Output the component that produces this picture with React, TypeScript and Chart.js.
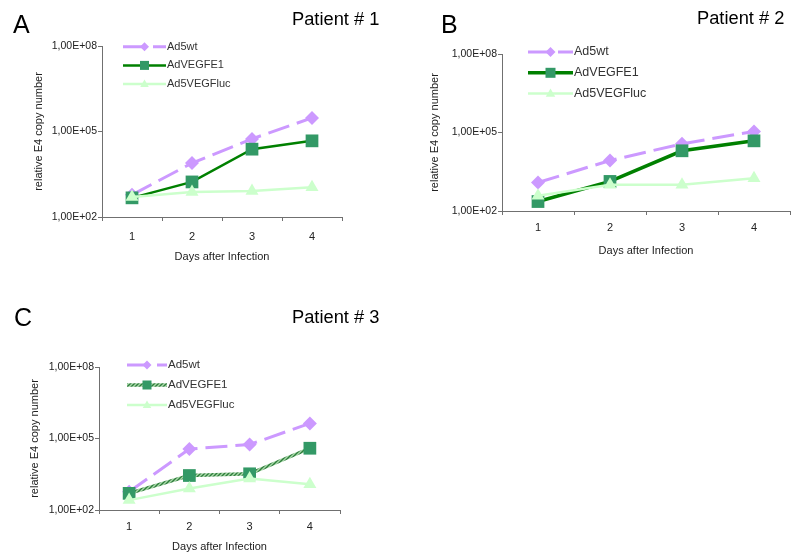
import React, { useEffect, useRef } from "react";
import { Chart, registerables } from "chart.js";

Chart.register(...registerables);

// ---------- data ----------
const days = ["1", "2", "3", "4"];
const seriesNames = ["Ad5wt", "AdVEGFE1", "Ad5VEGFluc"];
const yTickValues = [1e2, 1e5, 1e8];

const p1Ad5wt = [600, 7800, 55000, 300000];
const p1AdVEGFE1 = [470, 1700, 24000, 47000];
const p1Ad5VEGFluc = [500, 750, 820, 1100];

const p2Ad5wt = [1230, 8500, 37000, 110000];
const p2AdVEGFE1 = [230, 1350, 20000, 48000];
const p2Ad5VEGFluc = [385, 1000, 1000, 1800];

const p3Ad5wt = [580, 36000, 56000, 430000];
const p3AdVEGFE1 = [500, 2800, 3300, 39000];
const p3Ad5VEGFluc = [260, 800, 2100, 1200];

const FONT = 'Arial, "Liberation Sans", sans-serif';
const AXIS_COLOR = "#707070";
const TEXT_COLOR = "#222";

function fmtTick(v: number) {
  const e = Math.round(Math.log10(v));
  return "1,00E+" + String(e).padStart(2, "0");
}

function makeHatch(): any {
  const c = document.createElement("canvas");
  c.width = 4;
  c.height = 4;
  const g = c.getContext("2d")!;
  g.fillStyle = "#a9d9a9";
  g.fillRect(0, 0, 4, 4);
  g.strokeStyle = "#2e7d3c";
  g.lineWidth = 1.4;
  g.beginPath();
  g.moveTo(-1, 5);
  g.lineTo(5, -1);
  g.moveTo(-1, 1);
  g.lineTo(1, -1);
  g.moveTo(3, 5);
  g.lineTo(5, 3);
  g.stroke();
  return g.createPattern(c, "repeat");
}

function drawMarker(ctx: CanvasRenderingContext2D, style: string, x: number, y: number, r: number, color: string) {
  ctx.fillStyle = color;
  ctx.beginPath();
  if (style === "rectRot") {
    ctx.moveTo(x, y - r);
    ctx.lineTo(x + r, y);
    ctx.lineTo(x, y + r);
    ctx.lineTo(x - r, y);
  } else if (style === "rect") {
    ctx.rect(x - r, y - r, 2 * r, 2 * r);
  } else {
    ctx.moveTo(x, y - r);
    ctx.lineTo(x + r * 0.95, y + r * 0.65);
    ctx.lineTo(x - r * 0.95, y + r * 0.65);
  }
  ctx.closePath();
  ctx.fill();
}

const insideLegend = {
  id: "insideLegend",
  afterDatasetsDraw(chart: any, _args: any, opts: any) {
    const ctx: CanvasRenderingContext2D = chart.ctx;
    const ca = chart.chartArea;
    const x0 = ca.left + opts.dx;
    chart.data.datasets.forEach((ds: any, i: number) => {
      const y = ca.top + opts.dy + i * opts.row;
      ctx.save();
      ctx.strokeStyle = ds.borderColor;
      ctx.lineWidth = ds.borderWidth;
      ctx.setLineDash(ds.borderDash || []);
      ctx.beginPath();
      ctx.moveTo(x0, y);
      ctx.lineTo(x0 + opts.len, y);
      ctx.stroke();
      ctx.setLineDash([]);
      drawMarker(ctx, ds.pointStyle, x0 + opts.len * 0.5, y, opts.markerR, ds.pointBackgroundColor);
      ctx.fillStyle = "#333";
      ctx.font = opts.fontSize + "px " + FONT;
      ctx.textBaseline = "middle";
      ctx.textAlign = "left";
      ctx.fillText(ds.label, x0 + opts.len + 1, y);
      ctx.restore();
    });
  },
};

type PanelCfg = {
  wt: number[];
  e1: number[];
  luc: number[];
  e1Color: any;
  e1Width: number;
  pad: { left: number; right: number; top: number; bottom: number };
  yW: number;
  xH: number;
  xTickPad: number;
  legend: { dx: number; dy: number; row: number; len: number; markerR: number; fontSize: number };
};

function makeConfig(p: PanelCfg): any {
  return {
    type: "line",
    data: {
      labels: days,
      datasets: [
        {
          label: seriesNames[0],
          data: p.wt,
          borderColor: "#CC99FF",
          borderWidth: 3,
          borderDash: [22, 8],
          pointStyle: "rectRot",
          pointRadius: 7,
          pointBackgroundColor: "#CC99FF",
          pointBorderColor: "#CC99FF",
          pointBorderWidth: 0,
          order: 3,
          clip: false,
        },
        {
          label: seriesNames[1],
          data: p.e1,
          borderColor: p.e1Color,
          borderWidth: p.e1Width,
          pointStyle: "rect",
          pointRadius: 9,
          pointBackgroundColor: "#339966",
          pointBorderColor: "#339966",
          pointBorderWidth: 0,
          order: 2,
          clip: false,
        },
        {
          label: seriesNames[2],
          data: p.luc,
          borderColor: "#CCFFCC",
          borderWidth: 2.5,
          pointStyle: "triangle",
          pointRadius: 7.5,
          pointBackgroundColor: "#CCFFCC",
          pointBorderColor: "#CCFFCC",
          pointBorderWidth: 0,
          order: 1,
          clip: false,
        },
      ],
    },
    options: {
      animation: false,
      responsive: false,
      maintainAspectRatio: false,
      layout: { padding: p.pad },
      plugins: {
        legend: { display: false },
        tooltip: { enabled: false },
        insideLegend: p.legend,
      },
      scales: {
        x: {
          type: "category",
          offset: true,
          grid: { offset: true, drawOnChartArea: false, tickLength: 4, color: AXIS_COLOR },
          border: { color: AXIS_COLOR, width: 1 },
          ticks: { padding: p.xTickPad, font: { family: FONT, size: 11 }, color: TEXT_COLOR },
          title: {
            display: true,
            text: "Days after Infection",
            padding: 0,
            font: { family: FONT, size: 11 },
            color: TEXT_COLOR,
          },
          afterFit: (s: any) => {
            s.height = p.xH;
          },
        },
        y: {
          type: "logarithmic",
          min: 1e2,
          max: 1e8,
          afterBuildTicks: (s: any) => {
            s.ticks = yTickValues.map((v) => ({ value: v }));
          },
          ticks: {
            autoSkip: false,
            padding: 1,
            callback: (v: any) => fmtTick(Number(v)),
            font: { family: FONT, size: 10.5 },
            color: TEXT_COLOR,
          },
          grid: { drawOnChartArea: false, tickLength: 4, color: AXIS_COLOR },
          border: { color: AXIS_COLOR, width: 1 },
          title: {
            display: true,
            text: "relative E4 copy number",
            padding: 0,
            font: { family: FONT, size: 11 },
            color: TEXT_COLOR,
          },
          afterFit: (s: any) => {
            s.width = p.yW;
          },
        },
      },
    },
    plugins: [insideLegend],
  };
}

function Panel(props: { left: number; top: number; width: number; height: number; cfg: () => PanelCfg }) {
  const ref = useRef<HTMLCanvasElement>(null);
  useEffect(() => {
    const chart = new Chart(ref.current!, makeConfig(props.cfg()));
    return () => chart.destroy();
  }, []);
  return (
    <canvas
      ref={ref}
      width={props.width}
      height={props.height}
      style={{ position: "absolute", left: props.left, top: props.top, width: props.width, height: props.height }}
    />
  );
}

const textStyle = (left: number, top: number, size: number): React.CSSProperties => ({
  position: "absolute",
  left,
  top,
  fontFamily: FONT,
  fontSize: size,
  lineHeight: 1,
  color: "#000",
  whiteSpace: "nowrap",
});

export default function App() {
  return (
    <div style={{ position: "absolute", left: 0, top: 0, width: 800, height: 557, background: "#fff", overflow: "hidden" }}>
      <Panel
        left={0}
        top={0}
        width={400}
        height={280}
        cfg={() => ({
          wt: p1Ad5wt,
          e1: p1AdVEGFE1,
          luc: p1Ad5VEGFluc,
          e1Color: "#008000",
          e1Width: 2.5,
          pad: { left: 32.4, right: 58, top: 46, bottom: 16.4 },
          yW: 69.6,
          xH: 46.6,
          xTickPad: 9.4,
          legend: { dx: 21, dy: 0.7, row: 18.7, len: 43, markerR: 4.5, fontSize: 11 },
        })}
      />
      <Panel
        left={400}
        top={0}
        width={400}
        height={280}
        cfg={() => ({
          wt: p2Ad5wt,
          e1: p2AdVEGFE1,
          luc: p2Ad5VEGFluc,
          e1Color: "#008000",
          e1Width: 3.5,
          pad: { left: 28.4, right: 10, top: 54, bottom: 22.4 },
          yW: 73.6,
          xH: 46.6,
          xTickPad: 6.4,
          legend: { dx: 26, dy: -2, row: 20.8, len: 45, markerR: 5, fontSize: 12.5 },
        })}
      />
      <Panel
        left={0}
        top={330}
        width={400}
        height={227}
        cfg={() => ({
          wt: p3Ad5wt,
          e1: p3AdVEGFE1,
          luc: p3Ad5VEGFluc,
          e1Color: makeHatch(),
          e1Width: 3.5,
          pad: { left: 28.4, right: 60, top: 37, bottom: 3.4 },
          yW: 70.6,
          xH: 43.6,
          xTickPad: 6.4,
          legend: { dx: 28, dy: -2, row: 20, len: 40, markerR: 4.5, fontSize: 11.5 },
        })}
      />
      <div style={textStyle(13, 12, 25)}>A</div>
      <div style={textStyle(292, 10.3, 18.3)}>Patient # 1</div>
      <div style={textStyle(441, 12, 25)}>B</div>
      <div style={textStyle(697, 9.3, 18.3)}>Patient # 2</div>
      <div style={textStyle(14, 305, 25)}>C</div>
      <div style={textStyle(292, 307.8, 18.3)}>Patient # 3</div>
    </div>
  );
}
